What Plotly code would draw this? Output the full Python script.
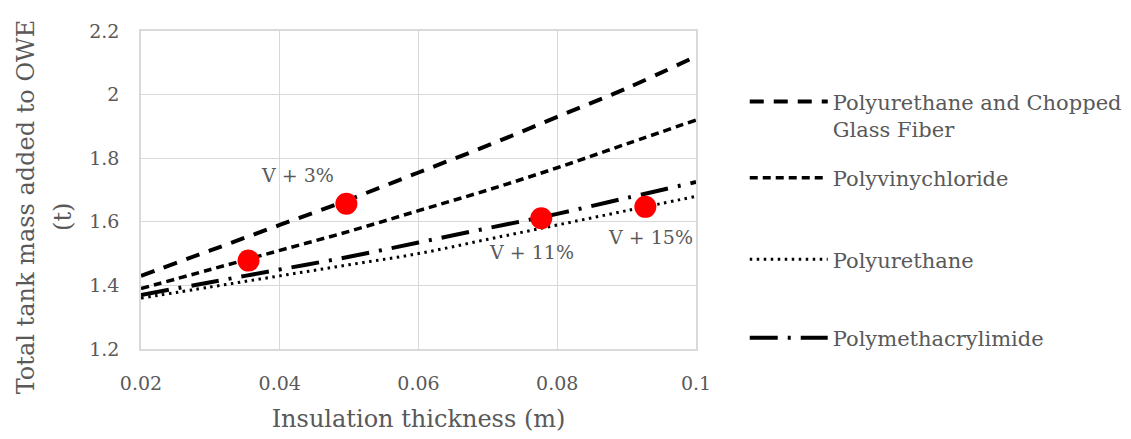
import plotly.graph_objects as go

# ---- data ----
thickness = [0.02, 0.03, 0.04, 0.05, 0.06, 0.07, 0.08, 0.09, 0.1]
pu_cgf = [1.43, 1.51, 1.59, 1.67, 1.755, 1.84, 1.93, 2.02, 2.12]
pvc = [1.39, 1.45, 1.51, 1.57, 1.635, 1.70, 1.77, 1.845, 1.92]
pu = [1.36, 1.395, 1.43, 1.465, 1.50, 1.545, 1.59, 1.635, 1.68]
pmi = [1.37, 1.41, 1.45, 1.49, 1.535, 1.58, 1.625, 1.675, 1.725]

point_x = [0.0355, 0.0496, 0.0777, 0.0927]
point_y = [1.478, 1.657, 1.611, 1.647]

label_text = ["V + 3%", "V + 11%", "V + 15%"]
label_x = [0.0425, 0.0763, 0.0934]
label_y = [1.746, 1.504, 1.553]

x_ticks = [0.02, 0.04, 0.06, 0.08, 0.1]
x_ticktext = ["0.02", "0.04", "0.06", "0.08", "0.1"]
y_ticks = [1.2, 1.4, 1.6, 1.8, 2.0, 2.2]
y_ticktext = ["1.2", "1.4", "1.6", "1.8", "2", "2.2"]

names = ["Polyurethane and Chopped<br>Glass Fiber", "Polyvinychloride",
         "Polyurethane", "Polymethacrylimide"]

x_title = "Insulation thickness (m)"
y_title_lines = ["Total tank mass added to OWE", "(t)"]

FONT = "DejaVu Serif"
GRAY = "#595959"

# plot-area geometry in page pixels (used only for placing text outside the axes)
PL, PR, PT, PB = 141, 699, 25, 349

def pxx(p):
    return (p - PL) / float(PR - PL)

def pxy(p):
    return (PB - p) / float(PB - PT)

fig = go.Figure()

styles = [
    (pu_cgf, 4, "14px,10px", "legend"),
    (pvc, 3.5, "8px,5px", "legend2"),
    (pu, 3, "2.5px,4.5px", "legend3"),
    (pmi, 4, "28px,10px,3px,10px", "legend4"),
]
for (ys, w, dash, lg), nm in zip(styles, names):
    fig.add_trace(go.Scatter(x=thickness, y=ys, mode="lines", name=nm,
                             line=dict(color="black", width=w, dash=dash,
                                       shape="spline", smoothing=1.0),
                             legend=lg))

fig.add_trace(go.Scatter(x=point_x, y=point_y, mode="markers", showlegend=False,
                         marker=dict(color="#ff0000", size=22)))

for t, x, y in zip(label_text, label_x, label_y):
    fig.add_annotation(x=x, y=y, text=t, showarrow=False,
                       font=dict(family=FONT, size=19, color=GRAY))

# y-axis title (two lines, placed like the original)
for t, cx, cy in zip(y_title_lines, [25, 63], [204, 214]):
    fig.add_annotation(xref="paper", yref="paper", x=pxx(cx), y=pxy(cy),
                       xanchor="center", yanchor="middle", text=t, textangle=-90,
                       showarrow=False, font=dict(family=FONT, size=24, color=GRAY))

lx = pxx(748)
legend_common = dict(x=lx, xanchor="left", yanchor="middle", bgcolor="rgba(0,0,0,0)",
                     font=dict(family=FONT, size=21, color=GRAY), itemwidth=78,
                     valign="top", tracegroupgap=0)
fig.update_layout(
    legend=dict(y=pxy(111), **legend_common),
    legend2=dict(y=pxy(175), **legend_common),
    legend3=dict(y=pxy(258), **legend_common),
    legend4=dict(y=pxy(338), **legend_common),
)

fig.update_layout(
    width=1131, height=439,
    margin=dict(l=133, r=440, t=17, b=98),
    paper_bgcolor="white", plot_bgcolor="white",
    font=dict(family=FONT, color=GRAY),
    xaxis=dict(range=[0.02, 0.1], tickvals=x_ticks, ticktext=x_ticktext,
               showgrid=True, gridcolor="#d9d9d9", gridwidth=1,
               showline=True, linecolor="#d9d9d9", linewidth=1.5, mirror=True,
               zeroline=False, ticks="", ticklabelstandoff=16,
               tickfont=dict(family=FONT, size=19, color=GRAY),
               title=dict(text=x_title, standoff=18,
                          font=dict(family=FONT, size=24, color=GRAY))),
    yaxis=dict(range=[1.2, 2.2], tickvals=y_ticks, ticktext=y_ticktext,
               showgrid=True, gridcolor="#d9d9d9", gridwidth=1,
               showline=True, linecolor="#d9d9d9", linewidth=1.5, mirror=True,
               zeroline=False, ticks="", ticklabelstandoff=16,
               tickfont=dict(family=FONT, size=19, color=GRAY)),
)

fig.write_html("out.html")
